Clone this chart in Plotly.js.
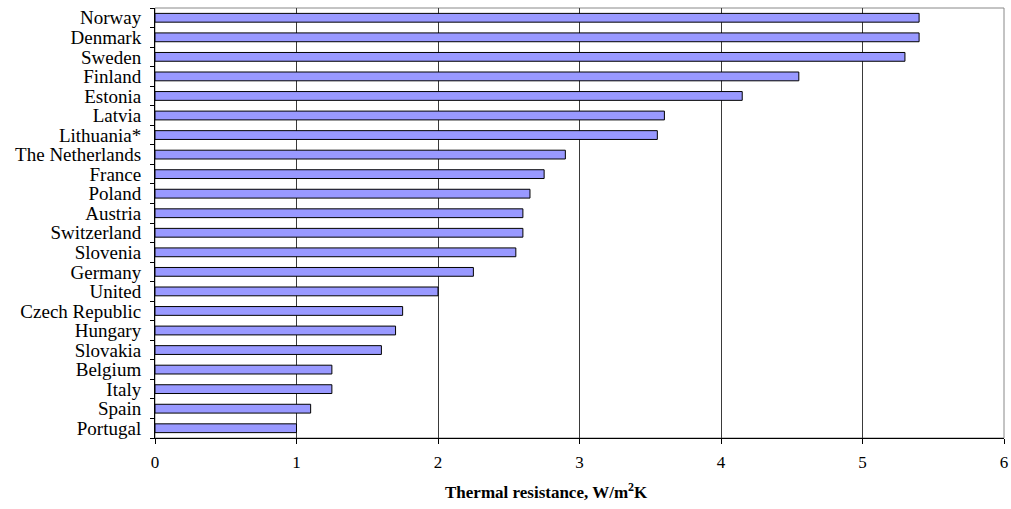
<!DOCTYPE html>
<html><head><meta charset="utf-8">
<script src="https://cdn.plot.ly/plotly-3.0.1.min.js"></script>
<style>html,body{margin:0;padding:0;background:#fff}#chart{width:1011px;height:509px}</style>
</head><body><div id="chart"></div>
<script>
const countries = ["Norway","Denmark","Sweden","Finland","Estonia","Latvia","Lithuania*","The Netherlands","France","Poland","Austria","Switzerland","Slovenia","Germany","United","Czech Republic","Hungary","Slovakia","Belgium","Italy","Spain","Portugal"];
const resistance = [5.4,5.4,5.3,4.55,4.15,3.6,3.55,2.9,2.75,2.65,2.6,2.6,2.55,2.25,2.0,1.75,1.7,1.6,1.25,1.25,1.1,1.0];
const xTicks = [0,1,2,3,4,5,6];
const xTitle = '<b>Thermal resistance, W/m<sup>2</sup>K</b>';

const trace = {
  type: 'bar', orientation: 'h',
  x: resistance, y: countries,
  width: 0.45,
  marker: {color: '#9999FF', line: {color: '#000000', width: 1}},
  hoverinfo: 'x+y'
};

const layout = {
  width: 1011, height: 509,
  margin: {l: 155, r: 7, t: 8, b: 71},
  paper_bgcolor: '#ffffff', plot_bgcolor: '#ffffff',
  showlegend: false,
  font: {family: '"Liberation Serif", "Times New Roman", serif', color: '#000', size: 17},
  xaxis: {
    range: [0, 6], tickmode: 'array', tickvals: xTicks, ticktext: xTicks.map(String),
    showgrid: true, gridcolor: '#3a3a3a', gridwidth: 1,
    zeroline: false, showline: true, linecolor: '#000', linewidth: 1,
    ticks: 'outside', ticklen: 5, tickcolor: '#000',
    tickfont: {size: 17}, fixedrange: true, ticklabelstandoff: 4
  },
  yaxis: {
    type: 'category', categoryorder: 'array', categoryarray: countries,
    tickmode: 'array', tickvals: countries, ticktext: countries,
    autorange: 'reversed',
    showgrid: false, zeroline: false, showline: true, linecolor: '#000', linewidth: 1,
    ticks: 'outside', ticklen: 4, tickcolor: '#000', tickson: 'boundaries',
    tickfont: {size: 19}, fixedrange: true, ticklabelstandoff: 9
  },
  annotations: [{
    text: xTitle, xref: 'paper', yref: 'paper', x: 0.461, y: -0.093,
    xanchor: 'center', yanchor: 'top', showarrow: false,
    font: {size: 17}
  }],
  shapes: [{type: 'rect', xref: 'paper', yref: 'paper', x0: 0, x1: 1, y0: 0, y1: 1,
            line: {color: '#888888', width: 1}, layer: 'below'}]
};

Plotly.newPlot('chart', [trace], layout, {displayModeBar: false, staticPlot: true});
</script>
</body></html>
